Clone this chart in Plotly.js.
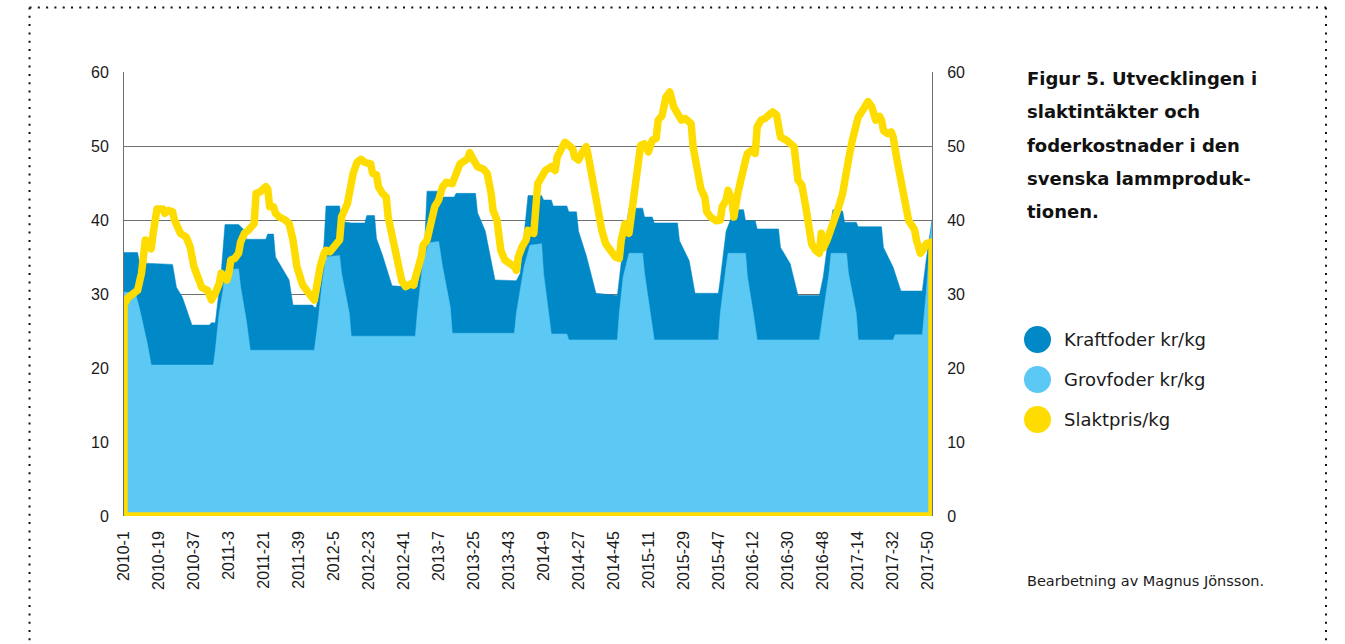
<!DOCTYPE html>
<html>
<head>
<meta charset="utf-8">
<script src="https://cdn.plot.ly/plotly-3.0.1.min.js"></script>
<style>
  html, body { margin: 0; padding: 0; background: #fff; }
  #chart { width: 1345px; height: 644px; }
  .cartesianlayer g.plot { clip-path: none !important; }
  .scatterlayer .js-line { stroke-linejoin: round !important; stroke-linecap: round !important; }
</style>
</head>
<body>
<div id="chart"></div>
<script>
// ---- categories (ISO weeks) ----
const yearWeeks = [[2010, 52], [2011, 52], [2012, 52], [2013, 52], [2014, 52], [2015, 53], [2016, 52], [2017, 52]];
const weeks = [];
yearWeeks.forEach(([y, n]) => { for (let w = 1; w <= n; w++) weeks.push(y + '-' + w); });

const tickLabels = ['2010-1','2010-19','2010-37','2011-3','2011-21','2011-39','2012-5','2012-23','2012-41',
  '2013-7','2013-25','2013-43','2014-9','2014-27','2014-45','2015-11','2015-29','2015-47',
  '2016-12','2016-30','2016-48','2017-14','2017-32','2017-50'];

// ---- Kraftfoder kr/kg ----
const kraftWeeks = ['2010-1','2010-8','2010-9','2010-22','2010-23','2010-26','2010-28','2010-31','2010-36','2010-45','2010-46','2010-48','2010-51',
  '2011-1','2011-8','2011-9','2011-11','2011-12','2011-22','2011-23','2011-26','2011-27','2011-30','2011-34','2011-36','2011-46','2011-47','2011-48','2011-50','2011-52',
  '2012-1','2012-8','2012-9','2012-14','2012-21','2012-22','2012-26','2012-27','2012-30','2012-35','2012-48','2012-50','2012-52',
  '2013-1','2013-7','2013-9','2013-15','2013-16','2013-26','2013-27','2013-31','2013-36','2013-47','2013-49','2013-51',
  '2014-1','2014-8','2014-9','2014-13','2014-14','2014-21','2014-22','2014-26','2014-27','2014-31','2014-36','2014-47','2014-48','2014-50',
  '2015-1','2015-8','2015-9','2015-13','2015-14','2015-26','2015-27','2015-32','2015-35','2015-47','2015-48','2015-51',
  '2016-1','2016-3','2016-7','2016-8','2016-13','2016-14','2016-25','2016-26','2016-31','2016-35','2016-46','2016-48','2016-51',
  '2017-1','2017-6','2017-7','2017-13','2017-14','2017-26','2017-27','2017-32','2017-36','2017-47','2017-49','2017-52'];
const kraftValues = [35.6,35.6,34.2,34.1,34.0,34.0,30.9,29.6,25.8,25.8,26.1,26.1,32.8,
  39.4,39.4,39.1,38.6,37.4,37.4,38.1,38.1,35.0,33.7,31.9,28.5,28.5,28.2,28.2,31.0,37.0,
  41.9,41.9,39.8,39.6,39.6,40.6,40.6,37.5,35.3,31.1,30.9,34.8,38.0,
  43.9,43.9,43.1,43.1,43.6,43.6,41.0,38.5,31.9,31.8,32.8,38.0,
  43.3,43.3,42.7,42.7,41.9,41.9,41.1,41.1,38.5,35.2,30.1,29.8,32.0,36.5,
  41.6,41.6,40.4,40.4,39.6,39.6,37.2,34.5,30.1,30.1,32.0,38.5,
  40.5,41.4,41.4,39.9,39.9,38.8,38.8,36.3,34.1,29.8,29.8,32.3,38.2,
  41.4,41.2,39.7,39.7,39.1,39.1,36.3,33.6,30.4,30.4,34.6,40.0];

// ---- Grovfoder kr/kg ----
const grovWeeks = ['2010-1','2010-7','2010-9','2010-13','2010-15','2010-47','2010-48','2010-50','2010-52',
  '2011-1','2011-8','2011-9','2011-12','2011-14','2011-47','2011-49','2011-51',
  '2012-1','2012-8','2012-9','2012-13','2012-14','2012-47','2012-48','2012-51',
  '2013-2','2013-7','2013-9','2013-13','2013-14','2013-46','2013-47','2013-51',
  '2014-1','2014-2','2014-8','2014-9','2014-13','2014-21','2014-22','2014-47','2014-48','2014-50',
  '2015-1','2015-8','2015-9','2015-12','2015-14','2015-47','2015-48','2015-51','2015-52',
  '2016-8','2016-9','2016-12','2016-14','2016-46','2016-48','2016-51','2016-52',
  '2017-8','2017-9','2017-13','2017-14','2017-32','2017-33','2017-47','2017-49','2017-51','2017-52'];
const grovValues = [30.3,30.0,28.0,23.3,20.4,20.4,22.4,27.4,30.5,
  33.2,33.4,31.0,26.4,22.4,22.4,26.5,31.5,
  35.0,35.2,32.8,27.4,24.3,24.3,27.4,34.6,
  36.9,37.1,33.7,28.2,24.7,24.7,27.4,33.7,
  35.9,36.6,36.8,32.8,24.6,24.6,23.8,23.8,27.4,32.3,
  35.5,35.5,32.8,27.4,23.8,23.8,27.4,33.7,35.5,
  35.5,32.3,27.4,23.8,23.8,27.4,32.8,35.5,
  35.5,32.8,27.4,23.8,23.8,24.5,24.5,30.1,37.5,39.5];

// ---- Slaktpris/kg ----
const slaktWeeks = ['2010-1','2010-3','2010-6','2010-8','2010-10','2010-11','2010-12','2010-14','2010-15','2010-16','2010-17','2010-18','2010-21','2010-22','2010-24','2010-26','2010-27','2010-30','2010-33','2010-35','2010-37','2010-39','2010-41','2010-44','2010-46','2010-48','2010-50','2010-51',
  '2011-2','2011-3','2011-4','2011-6','2011-8','2011-9','2011-11','2011-13','2011-16','2011-17','2011-19','2011-22','2011-23','2011-24','2011-26','2011-27','2011-29','2011-32','2011-34','2011-36','2011-38','2011-41','2011-43','2011-45','2011-47','2011-48','2011-50','2011-52',
  '2012-1','2012-3','2012-6','2012-8','2012-9','2012-12','2012-15','2012-17','2012-19','2012-21','2012-24','2012-25','2012-27','2012-28','2012-30','2012-32','2012-33','2012-35','2012-37','2012-39','2012-40','2012-42','2012-45','2012-46','2012-48','2012-50','2012-51',
  '2013-1','2013-5','2013-7','2013-9','2013-11','2013-14','2013-16','2013-18','2013-22','2013-23','2013-25','2013-27','2013-30','2013-32','2013-34','2013-35','2013-37','2013-39','2013-41','2013-44','2013-46','2013-47','2013-48','2013-50','2013-52',
  '2014-1','2014-4','2014-6','2014-8','2014-10','2014-13','2014-15','2014-16','2014-19','2014-20','2014-22','2014-24','2014-25','2014-27','2014-29','2014-31','2014-32','2014-34','2014-36','2014-37','2014-39','2014-41','2014-44','2014-46','2014-48','2014-49','2014-51',
  '2015-1','2015-3','2015-4','2015-7','2015-9','2015-11','2015-13','2015-15','2015-16','2015-18','2015-20','2015-22','2015-24','2015-26','2015-28','2015-30','2015-32','2015-33','2015-34','2015-36','2015-38','2015-40','2015-41','2015-43','2015-45','2015-46','2015-48','2015-49','2015-51','2015-52',
  '2016-1','2016-2','2016-4','2016-6','2016-8','2016-9','2016-11','2016-13','2016-14','2016-16','2016-18','2016-20','2016-22','2016-24','2016-26','2016-29','2016-31','2016-33','2016-35','2016-37','2016-39','2016-41','2016-42','2016-44','2016-46','2016-47','2016-48','2016-50','2016-52',
  '2017-2','2017-4','2017-6','2017-7','2017-9','2017-11','2017-13','2017-14','2017-17','2017-19','2017-21','2017-23','2017-25','2017-26','2017-27','2017-29','2017-31','2017-32','2017-34','2017-37','2017-38','2017-40','2017-42','2017-43','2017-44','2017-46','2017-48','2017-49','2017-51','2017-52'];
const slaktValues = [28.5,29.5,30.1,30.5,32.8,36.4,37.3,37.0,36.1,38.2,40.4,41.5,41.5,40.9,41.3,41.1,40.0,38.2,37.7,36.4,33.7,31.9,30.9,30.5,29.2,30.1,31.4,32.8,
  31.9,32.8,34.6,34.8,35.5,37.0,38.2,38.6,39.5,43.6,43.8,44.5,44.2,41.8,41.8,40.9,40.4,40.0,39.5,37.3,33.7,31.2,30.3,29.8,29.2,31.4,33.7,35.5,
  35.9,35.7,36.6,37.3,40.4,42.2,46.3,47.8,48.2,47.8,47.6,46.3,46.1,44.5,43.6,43.1,40.4,38.2,35.5,33.7,31.8,31.0,31.4,31.2,32.8,35.0,36.6,
  37.3,41.8,42.7,44.5,45.1,44.9,46.7,47.6,48.3,49.1,48.1,47.2,46.9,46.3,43.6,41.3,40.0,35.9,34.6,34.1,33.7,33.2,35.0,36.4,37.3,
  38.6,38.2,44.9,45.8,46.7,47.2,46.7,48.5,50.5,50.5,50.1,49.6,48.5,48.1,49.2,49.9,48.7,45.8,42.2,40.4,38.6,36.8,35.9,35.0,34.8,37.3,39.5,
  38.2,42.2,44.5,50.1,50.3,49.2,50.8,51.0,53.5,54.1,56.6,57.3,55.3,54.4,53.5,53.7,53.2,53.0,49.9,47.2,44.2,43.1,41.1,40.4,39.9,39.9,40.0,41.8,42.7,44.0,
  42.7,40.4,43.6,46.5,48.1,49.0,49.4,49.0,52.6,53.5,53.7,54.2,54.6,54.2,51.2,50.8,50.3,49.9,45.4,44.7,41.8,38.6,36.8,35.9,35.5,38.2,36.2,37.3,38.6,
  39.9,41.8,43.6,45.8,48.1,50.8,52.6,53.9,55.1,56.0,55.3,53.5,54.0,53.5,52.1,51.7,51.9,51.2,48.1,44.5,42.2,39.9,39.1,38.7,37.3,35.5,36.2,36.8,37.0,37.0];

const seriesNames = ['Kraftfoder kr/kg', 'Grovfoder kr/kg', 'Slaktpris/kg'];
const colors = ['#0088c7', '#5cc8f4', '#ffdc00'];

const firstWeek = weeks[0], lastWeek = weeks[weeks.length - 1];

const traces = [
  { x: kraftWeeks, y: kraftValues, type: 'scatter', mode: 'lines', fill: 'tozeroy',
    fillcolor: colors[0], line: { color: colors[0], width: 0.5 }, name: seriesNames[0], hoverinfo: 'skip' },
  { x: grovWeeks, y: grovValues, type: 'scatter', mode: 'lines', fill: 'tozeroy',
    fillcolor: colors[1], line: { color: colors[1], width: 0.5 }, name: seriesNames[1], hoverinfo: 'skip' },
  // Slaktpris drawn as an unfilled area outline (closed to the baseline)
  { x: [firstWeek].concat(slaktWeeks, [lastWeek, firstWeek]),
    y: [0].concat(slaktValues, [0, 0]),
    type: 'scatter', mode: 'lines', yaxis: 'y2',
    line: { color: colors[2], width: 7.5 }, name: seriesNames[2], hoverinfo: 'skip' }
];

const W = 1345, H = 644, ML = 124, MR = 413, MT = 72, MB = 128;
const PW = W - ML - MR, PH = H - MT - MB;
const px = v => (v - ML) / PW;           // page pixel -> paper x
const py = v => 1 - (v - MT) / PH;       // page pixel -> paper y

const tickFont = { family: 'Liberation Sans, Arial, sans-serif', size: 16, color: '#1a1a1a' };
const textFont = { family: 'DejaVu Sans, sans-serif', size: 18, color: '#1a1a1a' };

const titleLines = ['Figur 5. Utvecklingen i', 'slaktintäkter och', 'foderkostnader i den', 'svenska lammproduk-', 'tionen.'];
const titleY = [79, 112, 145, 178, 211];
const legendY = [339.5, 379.5, 419.5];

const annotations = [];
titleLines.forEach((t, i) => annotations.push({
  xref: 'paper', yref: 'paper', x: px(1025), y: py(titleY[i]), xanchor: 'left', yanchor: 'middle',
  text: '<b>' + t + '</b>', showarrow: false, font: { family: 'DejaVu Sans, sans-serif', size: 18, color: '#111' }
}));
seriesNames.forEach((n, i) => annotations.push({
  xref: 'paper', yref: 'paper', x: px(1062), y: py(legendY[i]), xanchor: 'left', yanchor: 'middle',
  text: n, showarrow: false, font: textFont
}));
annotations.push({
  xref: 'paper', yref: 'paper', x: px(1025), y: py(581), xanchor: 'left', yanchor: 'middle',
  text: 'Bearbetning av Magnus Jönsson.', showarrow: false,
  font: { family: 'DejaVu Sans, sans-serif', size: 14.5, color: '#1a1a1a' }
});

const shapes = [];
seriesNames.forEach((n, i) => shapes.push({
  type: 'circle', xref: 'paper', yref: 'paper', xsizemode: 'pixel', ysizemode: 'pixel',
  xanchor: px(1037.5), yanchor: py(legendY[i]), x0: -13.5, x1: 13.5, y0: -13.5, y1: 13.5,
  fillcolor: colors[i], line: { width: 0 }, layer: 'above'
}));
// dotted frame
const frameLine = { color: '#111', width: 2, dash: '2px,6.3px' };
const fx0 = px(29.5), fx1 = px(1326), fy0 = py(7.5), fy1 = py(720);
shapes.push({ type: 'line', xref: 'paper', yref: 'paper', x0: fx0, x1: fx1, y0: fy0, y1: fy0, line: frameLine });
shapes.push({ type: 'line', xref: 'paper', yref: 'paper', x0: fx0, x1: fx0, y0: fy0, y1: fy1, line: frameLine });
shapes.push({ type: 'line', xref: 'paper', yref: 'paper', x0: fx1, x1: fx1, y0: fy0, y1: fy1, line: frameLine });

const layout = {
  width: W, height: H,
  margin: { l: ML, r: MR, t: MT, b: MB, pad: 0 },
  paper_bgcolor: '#fff', plot_bgcolor: '#fff',
  showlegend: false,
  xaxis: {
    type: 'category', categoryorder: 'array', categoryarray: weeks,
    range: [0, weeks.length - 1], tickmode: 'array', tickvals: tickLabels, ticktext: tickLabels,
    tickangle: -90, tickfont: tickFont, showgrid: false, zeroline: false, showline: false,
    ticks: '', ticklabelstandoff: 11, fixedrange: true
  },
  yaxis: {
    range: [0, 60], tick0: 0, dtick: 10, tickfont: tickFont,
    showgrid: true, gridcolor: '#6f6f6f', gridwidth: 1,
    showline: true, linecolor: '#6f6f6f', linewidth: 1, zeroline: false,
    ticks: '', ticklabelstandoff: 11, fixedrange: true
  },
  yaxis2: {
    overlaying: 'y', side: 'right', range: [0, 60], tick0: 0, dtick: 10, tickfont: tickFont,
    showgrid: false, showline: true, linecolor: '#6f6f6f', linewidth: 1, zeroline: false,
    ticks: '', ticklabelstandoff: 11, fixedrange: true
  },
  annotations: annotations,
  shapes: shapes
};

Plotly.newPlot('chart', traces, layout, { staticPlot: true, displayModeBar: false });
</script>
</body>
</html>
